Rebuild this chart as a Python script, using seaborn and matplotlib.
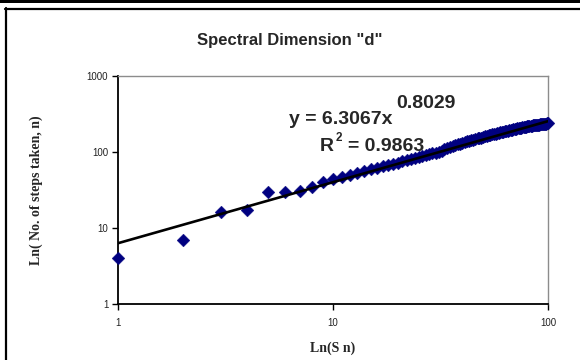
import numpy as np
import pandas as pd
import matplotlib
matplotlib.use("Agg")
import matplotlib.pyplot as plt
import seaborn as sns
from matplotlib.lines import Line2D
from matplotlib.patches import Rectangle
from matplotlib.ticker import FixedLocator, FuncFormatter, NullLocator

# ---- data ----
sites_visited = list(range(1, 101))
steps_taken = [4, 7, 16, 17, 30, 30, 31, 35, 40, 44,
               47, 50, 53, 56, 59, 62, 65, 67, 70, 72,
               75, 78, 80, 83, 86, 88, 90, 93, 96, 98,
               100, 103, 110, 114, 117, 120, 123, 126, 129, 132,
               135, 138, 141, 143, 146, 148, 151, 153, 155, 157,
               160, 162, 165, 167, 170, 172, 174, 177, 179, 181,
               183, 185, 187, 189, 191, 193, 195, 197, 199, 201,
               203, 205, 207, 209, 210, 212, 213, 215, 216, 218,
               219, 220, 222, 223, 224, 225, 226, 227, 228, 229,
               230, 231, 232, 233, 234, 235, 236, 237, 238, 239]
fit_coef = 6.3067
fit_exp = 0.8029
r_squared = 0.9863
x_ticks = [1, 10, 100]
y_ticks = [1, 10, 100, 1000]
title = 'Spectral Dimension "d"'
x_label = "Ln(S n)"
y_label = "Ln( No. of steps taken, n)"

sns.set_style("white")
plt.rcParams["font.family"] = ["Liberation Sans", "DejaVu Sans"]

W, H = 580, 360
fig = plt.figure(figsize=(W / 100, H / 100), dpi=100)
ax = fig.add_axes([118 / W, 1 - 304 / H, 430 / W, 228 / H])

df = pd.DataFrame({"x": sites_visited, "y": steps_taken})
sns.scatterplot(data=df, x="x", y="y", ax=ax, marker="D", s=42,
                color="#000080", edgecolor="#000080", linewidth=0.3, zorder=3,
                clip_on=False)

fit_x = np.logspace(0, 2, 120)
fit_df = pd.DataFrame({"x": fit_x, "y": fit_coef * fit_x ** fit_exp})
sns.lineplot(data=fit_df, x="x", y="y", ax=ax, color="black", linewidth=1.9,
             zorder=4, sort=True)

ax.set_xscale("log")
ax.set_yscale("log")
ax.set_xlim(1, 100)
ax.set_ylim(1, 1000)
ax.xaxis.set_major_locator(FixedLocator(x_ticks))
ax.yaxis.set_major_locator(FixedLocator(y_ticks))
ax.xaxis.set_minor_locator(NullLocator())
ax.yaxis.set_minor_locator(NullLocator())
fmt = FuncFormatter(lambda v, p: f"{v:g}")
ax.xaxis.set_major_formatter(fmt)
ax.yaxis.set_major_formatter(fmt)
ax.tick_params(axis="both", which="major", labelsize=7, length=4, width=1,
               color="black", labelcolor="#222222", direction="out", pad=3,
               bottom=True, left=True)
ax.tick_params(axis="x", pad=6)
ax.grid(False)

for s in ["left", "bottom"]:
    ax.spines[s].set_color("black")
    ax.spines[s].set_linewidth(1.3)
for s in ["top", "right"]:
    ax.spines[s].set_color("#8c8c8c")
    ax.spines[s].set_linewidth(1.0)

ax.set_xlabel(x_label, fontfamily="Liberation Serif", fontweight="bold", fontsize=10)
ax.set_ylabel(y_label, fontfamily="Liberation Serif", fontweight="bold", fontsize=10)
ax.xaxis.set_label_coords(0.5, (304 - 342) / 228)
ax.yaxis.set_label_coords((43 - 118) / 430, 0.5)

def fx(px):
    return px / W

def fy(py):
    return 1 - py / H

fig.text(fx(290), fy(41), title, ha="center", va="center",
         fontsize=12, fontweight="bold")

eq_kw = dict(fontsize=14, fontweight="bold", va="baseline", ha="left")
fig.text(fx(289), fy(124), f"y = {fit_coef:.4f}x", **eq_kw)
fig.text(fx(396), fy(108), f"{fit_exp:.4f}", **eq_kw)
fig.text(fx(320), fy(151), "R", **eq_kw)
fig.text(fx(336), fy(141), "2", fontsize=8.5, fontweight="bold", va="baseline", ha="left")
fig.text(fx(348), fy(151), f"= {r_squared:.4f}", **eq_kw)

# outer frame (partially visible in the reference)
fig.add_artist(Rectangle((0, 1 - 2.5 / H), 1, 2.5 / H, transform=fig.transFigure,
                         color="black", lw=0))
fig.add_artist(Line2D([fx(6), fx(6)], [0, fy(8)], transform=fig.transFigure,
                      color="black", lw=1.6))
fig.add_artist(Line2D([fx(5.2), 1], [fy(9), fy(9)], transform=fig.transFigure,
                      color="black", lw=1.6))

fig.savefig("out.png", dpi=100)
